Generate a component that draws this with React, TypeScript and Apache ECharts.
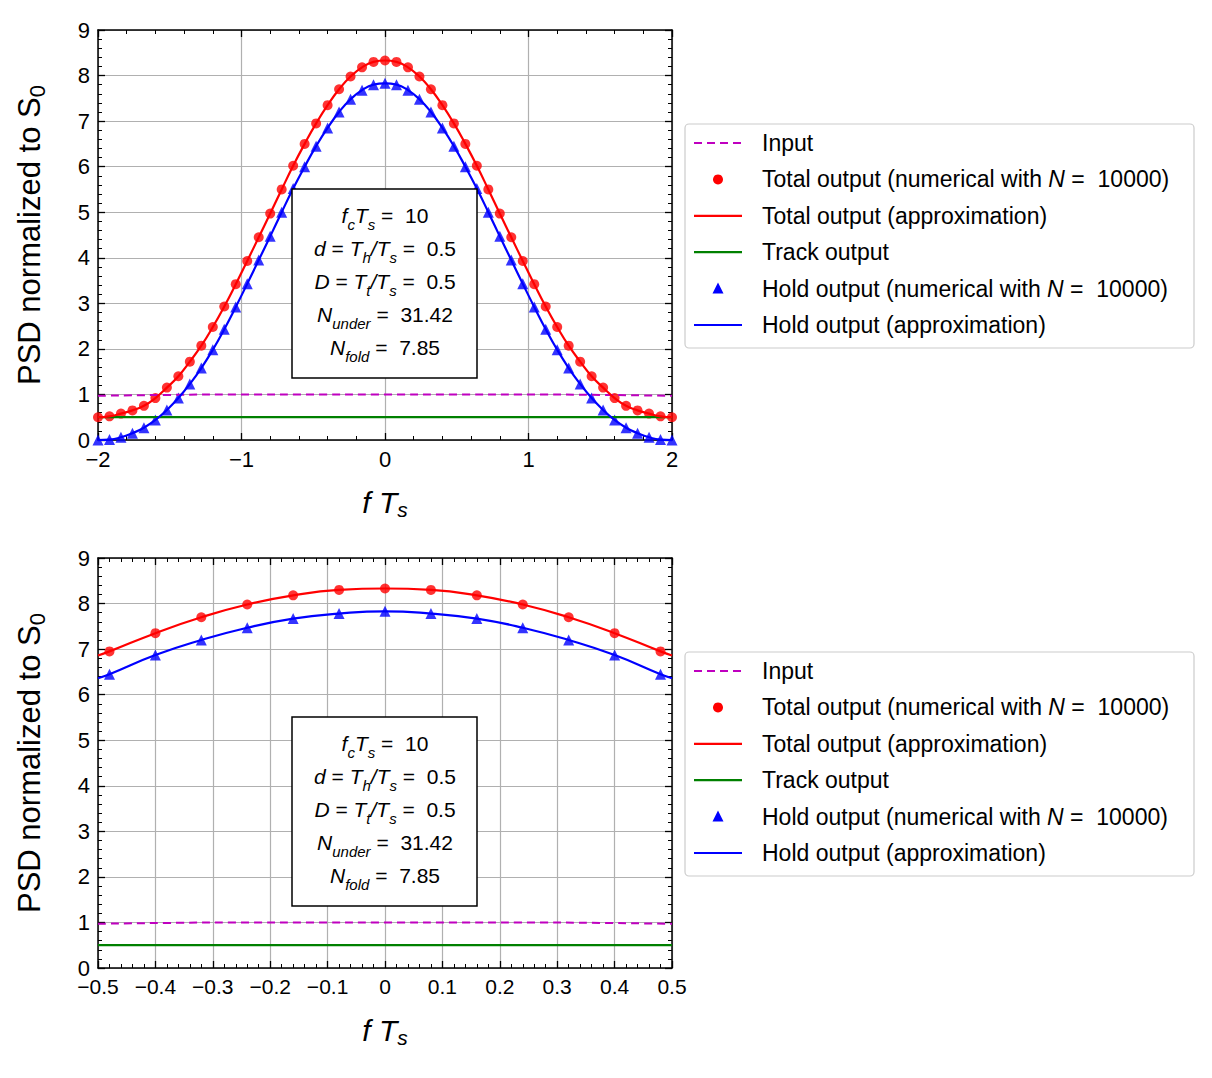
import { useEffect, useRef } from "react";
import * as echarts from "echarts";

// x positions of the numerical samples (top plot)
const xTop = [-2, -1.92, -1.84, -1.76, -1.68, -1.6, -1.52, -1.44, -1.36, -1.28, -1.2, -1.12, -1.04, -0.96, -0.88, -0.8, -0.72, -0.64, -0.56, -0.48, -0.4, -0.32, -0.24, -0.16, -0.08, 0, 0.08, 0.16, 0.24, 0.32, 0.4, 0.48, 0.56, 0.64, 0.72, 0.8, 0.88, 0.96, 1.04, 1.12, 1.2, 1.28, 1.36, 1.44, 1.52, 1.6, 1.68, 1.76, 1.84, 1.92, 2];
const totalTop = [0.5, 0.52, 0.58, 0.65, 0.75, 0.92, 1.15, 1.4, 1.72, 2.07, 2.48, 2.93, 3.42, 3.93, 4.45, 4.97, 5.5, 6.02, 6.5, 6.95, 7.35, 7.7, 7.98, 8.18, 8.3, 8.33, 8.3, 8.18, 7.98, 7.7, 7.35, 6.95, 6.5, 6.02, 5.5, 4.97, 4.45, 3.93, 3.42, 2.93, 2.48, 2.07, 1.72, 1.4, 1.15, 0.92, 0.75, 0.65, 0.58, 0.52, 0.5];
const holdTop = [0, 0.01, 0.06, 0.15, 0.27, 0.44, 0.66, 0.92, 1.23, 1.58, 1.98, 2.43, 2.92, 3.43, 3.95, 4.47, 5.0, 5.52, 6.0, 6.45, 6.85, 7.2, 7.48, 7.68, 7.8, 7.83, 7.8, 7.68, 7.48, 7.2, 6.85, 6.45, 6.0, 5.52, 5.0, 4.47, 3.95, 3.43, 2.92, 2.43, 1.98, 1.58, 1.23, 0.92, 0.66, 0.44, 0.27, 0.15, 0.06, 0.01, 0];

const xBot = [-0.48, -0.4, -0.32, -0.24, -0.16, -0.08, 0, 0.08, 0.16, 0.24, 0.32, 0.4, 0.48];
const totalBot = [6.95, 7.35, 7.7, 7.98, 8.18, 8.3, 8.33, 8.3, 8.18, 7.98, 7.7, 7.35, 6.95];
const holdBot = [6.45, 6.87, 7.2, 7.47, 7.67, 7.78, 7.83, 7.78, 7.67, 7.47, 7.2, 6.87, 6.45];
const xBotLine = [-0.5, ...xBot, 0.5];
const totalBotLine = [6.86, ...totalBot, 6.86];
const holdBotLine = [6.36, ...holdBot, 6.36];

const xInput = [-2, -1.5, -1, -0.5, 0, 0.5, 1, 1.5, 2];
const inputVals = [0.97, 0.99, 1.0, 1.0, 1.0, 1.0, 1.0, 0.99, 0.97];
const trackVals = [0.5, 0.5, 0.5, 0.5, 0.5, 0.5, 0.5, 0.5, 0.5];

const FONT = "Liberation Sans";
const zip = (xs: number[], ys: number[]) => xs.map((x, i) => [x, ys[i]]);
const minus = (v: number) => String(v).replace("-", "\u2212");

const GRIDS = [
  { left: 98, top: 30, width: 574, height: 410 },
  { left: 98, top: 558, width: 574, height: 410 },
];

export default function App() {
  const ref = useRef<HTMLDivElement>(null);

  useEffect(() => {
    if (!ref.current) return;
    const chart = echarts.init(ref.current, null, { renderer: "svg" });

    const tick = { show: true, inside: true, length: 7, lineStyle: { color: "#000", width: 1.3 } };
    const minor = { show: true, splitNumber: 5, length: 4, lineStyle: { color: "#000", width: 1 } };
    const line = { show: true, onZero: false, lineStyle: { color: "#000", width: 1.5 } };

    const xAxes: any[] = [];
    const yAxes: any[] = [];
    [0, 1].forEach((g) => {
      const xr = g === 0 ? { min: -2, max: 2, interval: 1 } : { min: -0.5, max: 0.5, interval: 0.1 };
      xAxes.push({
        type: "value", gridIndex: g, ...xr, position: "bottom",
        axisLine: line, axisTick: tick, minorTick: minor,
        splitLine: { show: true, lineStyle: { color: "#b0b0b0", width: 1.2 } },
        axisLabel: {
          color: "#000", fontSize: g === 0 ? 22 : 21, fontFamily: FONT, margin: 8,
          formatter: (v: number) => minus(g === 0 ? v : Math.round(v * 10) / 10),
        },
        name: "{i|f T}{s|s}", nameLocation: "middle", nameGap: 44,
        nameTextStyle: {
          rich: {
            i: { fontSize: 30, fontStyle: "italic", fontFamily: FONT, color: "#000", lineHeight: 36, verticalAlign: "middle" },
            s: { fontSize: 21, fontStyle: "italic", fontFamily: FONT, color: "#000", lineHeight: 20, verticalAlign: "bottom" },
          },
        },
      });
      xAxes.push({
        type: "value", gridIndex: g, ...xr, position: "top",
        axisLine: line, axisTick: tick, minorTick: minor, axisLabel: { show: false }, splitLine: { show: false },
      });
      yAxes.push({
        type: "value", gridIndex: g, min: 0, max: 9, interval: 1, position: "left",
        axisLine: line, axisTick: tick, minorTick: minor,
        splitLine: { show: true, lineStyle: { color: "#b0b0b0", width: 1.2 } },
        axisLabel: { color: "#000", fontSize: 22, fontFamily: FONT, margin: 8 },
        name: "{a|PSD normalized to S}{b|0}", nameLocation: "middle", nameGap: 50,
        nameTextStyle: {
          rich: {
            a: { fontSize: 31, fontFamily: FONT, color: "#000", lineHeight: 38, verticalAlign: "middle" },
            b: { fontSize: 22, fontFamily: FONT, color: "#000", lineHeight: 20, verticalAlign: "bottom" },
          },
        },
      });
      yAxes.push({
        type: "value", gridIndex: g, min: 0, max: 9, interval: 1, position: "right",
        axisLine: line, axisTick: tick, minorTick: minor, axisLabel: { show: false }, splitLine: { show: false },
      });
    });

    const series: any[] = [];
    [0, 1].forEach((g) => {
      const xi = g * 2, yi = g * 2;
      const xIn = g === 0 ? xInput : xInput.map((x) => x / 4);
      series.push(
        { type: "line", xAxisIndex: xi, yAxisIndex: yi, data: zip(xIn, inputVals), smooth: true, showSymbol: false, lineStyle: { color: "#bf00bf", width: 2, type: [8, 5] } },
        { type: "line", xAxisIndex: xi, yAxisIndex: yi, data: zip(xIn, trackVals), showSymbol: false, lineStyle: { color: "#008000", width: 2.2 } },
        { type: "line", xAxisIndex: xi, yAxisIndex: yi, data: g === 0 ? zip(xTop, totalTop) : zip(xBotLine, totalBotLine), smooth: true, showSymbol: false, lineStyle: { color: "#ff0000", width: 2.2 } },
        { type: "line", xAxisIndex: xi, yAxisIndex: yi, data: g === 0 ? zip(xTop, holdTop) : zip(xBotLine, holdBotLine), smooth: true, showSymbol: false, lineStyle: { color: "#0000ff", width: 2.2 } },
        { type: "scatter", xAxisIndex: xi, yAxisIndex: yi, data: g === 0 ? zip(xTop, totalTop) : zip(xBot, totalBot), symbol: "circle", symbolSize: 10, itemStyle: { color: "#ff0000" } },
        { type: "scatter", xAxisIndex: xi, yAxisIndex: yi, data: g === 0 ? zip(xTop, holdTop) : zip(xBot, holdBot), symbol: "triangle", symbolSize: 11, itemStyle: { color: "#0000ff" } },
      );
    });

    const rt = {
      n: { fontSize: 21, fontFamily: FONT, color: "#000", lineHeight: 33, verticalAlign: "middle" },
      i: { fontSize: 21, fontFamily: FONT, fontStyle: "italic", color: "#000", lineHeight: 33, verticalAlign: "middle" },
      s: { fontSize: 15, fontFamily: FONT, fontStyle: "italic", color: "#000", lineHeight: 20, verticalAlign: "bottom" },
    };
    const boxText = [
      "{i|f}{s|c}{i|T}{s|s}{n| =  10}",
      "{i|d}{n| = }{i|T}{s|h}{i|/T}{s|s}{n| =  0.5}",
      "{i|D}{n| = }{i|T}{s|t}{i|/T}{s|s}{n| =  0.5}",
      "{i|N}{s|under}{n| =  31.42}",
      "{i|N}{s|fold}{n| =  7.85}",
    ].join("\n");

    const legendItems = [
      { kind: "dash", color: "#bf00bf", text: "{n|Input}" },
      { kind: "dot", color: "#ff0000", text: "{n|Total output (numerical with }{i|N}{n| =  10000)}" },
      { kind: "line", color: "#ff0000", text: "{n|Total output (approximation)}" },
      { kind: "line", color: "#008000", text: "{n|Track output}" },
      { kind: "tri", color: "#0000ff", text: "{n|Hold output (numerical with }{i|N}{n| =  10000)}" },
      { kind: "line", color: "#0000ff", text: "{n|Hold output (approximation)}" },
    ];
    const lrt = {
      n: { fontSize: 23, fontFamily: FONT, color: "#000" },
      i: { fontSize: 23, fontFamily: FONT, fontStyle: "italic", color: "#000" },
    };

    const graphic: any[] = [];
    [0, 528].forEach((dy) => {
      graphic.push({
        type: "rect", shape: { x: 292, y: 189 + dy, width: 185, height: 189 },
        style: { fill: "#fff", stroke: "#000", lineWidth: 1.5 }, z: 10,
      });
      graphic.push({
        type: "text", x: 385, y: 281 + dy, z: 11,
        style: { text: boxText, rich: rt, align: "center", verticalAlign: "middle" },
      });
      const lx = 685, ly = 124 + dy;
      graphic.push({
        type: "rect", shape: { x: lx, y: ly, width: 509, height: 224, r: 4 },
        style: { fill: "#fff", stroke: "#cccccc", lineWidth: 1.2 }, z: 10,
      });
      legendItems.forEach((it, k) => {
        const cy = ly + 19 + k * 36.4;
        if (it.kind === "dash") {
          graphic.push({ type: "line", z: 11, shape: { x1: lx + 9, y1: cy, x2: lx + 57, y2: cy }, style: { stroke: it.color, lineWidth: 2, lineDash: [8, 5] } });
        } else if (it.kind === "line") {
          graphic.push({ type: "line", z: 11, shape: { x1: lx + 9, y1: cy, x2: lx + 57, y2: cy }, style: { stroke: it.color, lineWidth: 2.2 } });
        } else if (it.kind === "dot") {
          graphic.push({ type: "circle", z: 11, shape: { cx: lx + 33, cy, r: 5 }, style: { fill: it.color } });
        } else {
          graphic.push({ type: "polygon", z: 11, shape: { points: [[lx + 33, cy - 6], [lx + 27.5, cy + 5], [lx + 38.5, cy + 5]] }, style: { fill: it.color } });
        }
        graphic.push({ type: "text", z: 11, x: lx + 77, y: cy, style: { text: it.text, rich: lrt, verticalAlign: "middle" } });
      });
    });

    chart.setOption({
      animation: false,
      backgroundColor: "#fff",
      grid: GRIDS,
      xAxis: xAxes,
      yAxis: yAxes,
      series,
      graphic,
    });
    return () => chart.dispose();
  }, []);

  return <div ref={ref} style={{ position: "fixed", left: 0, top: 0, width: 1212, height: 1078 }} />;
}
